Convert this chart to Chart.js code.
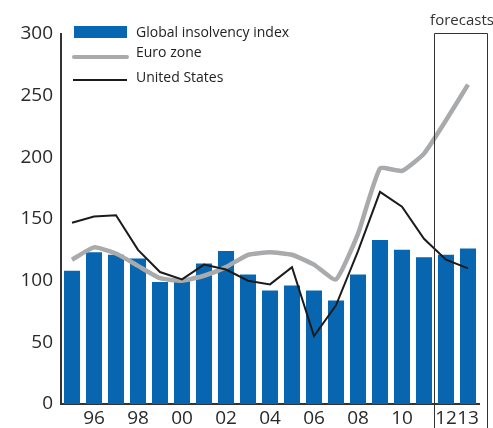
<!DOCTYPE html>
<html>
<head>
<meta charset="utf-8">
<script src="https://cdn.jsdelivr.net/npm/chart.js@4"></script>
<style>
html,body{margin:0;padding:0;background:#fff;}
#wrap{width:493px;height:428px;position:relative;}
</style>
</head>
<body>
<div id="wrap"><canvas id="c"></canvas></div>
<script>
const years = ['95','96','97','98','99','00','01','02','03','04','05','06','07','08','09','10','11','12','13'];
const shownLabels = ['96','98','00','02','04','06','08','10','12','13'];
const globalIndex = [108,123,121,118,99,100,114,124,105,92,96,92,84,105,133,125,119,121,126];
const euroZone = [117,127,122,112,102,100,104,111,121,123,121,113,101,138,191,189,203,230,259];
const unitedStates = [147,152,153,125,107,101,113,109,100,97,111,55,80,124,172,160,134,117,110];
const yTicks = [0,50,100,150,200,250,300];
const seriesNames = ['Global insolvency index','Euro zone','United States'];
const forecastLabel = 'forecasts';

const FONT = "'Open Sans', 'DejaVu Sans', sans-serif";
const BLUE = '#0866b0', GREY = '#a9aaac', BLACK = '#1b1b1b', AXIS = '#333333';

const overlay = {
  id: 'overlay',
  afterDraw(chart) {
    const ctx = chart.ctx;
    const x = chart.scales.x, y = chart.scales.y;
    // forecast box
    const left = Math.round((x.getPixelForValue(16) + x.getPixelForValue(17)) / 2) - 0.5;
    const right = chart.width - 5.5;
    const top = y.getPixelForValue(300) - 0.5;
    ctx.save();
    ctx.strokeStyle = AXIS; ctx.lineWidth = 1;
    ctx.beginPath();
    ctx.moveTo(left, chart.height); ctx.lineTo(left, top); ctx.lineTo(right, top); ctx.lineTo(right, chart.height);
    ctx.stroke();
    ctx.fillStyle = AXIS;
    ctx.font = "15px " + FONT;
    ctx.textAlign = 'center'; ctx.textBaseline = 'middle';
    ctx.fillText(forecastLabel, (left + right) / 2 + 1, top - 13);
    // legend
    ctx.textAlign = 'left';
    ctx.font = "14px " + FONT;
    ctx.fillStyle = BLUE;
    ctx.fillRect(74, 26, 53, 12);
    ctx.strokeStyle = GREY; ctx.lineWidth = 4; ctx.lineCap = 'round';
    ctx.beginPath(); ctx.moveTo(74, 57); ctx.lineTo(127, 57); ctx.stroke();
    ctx.strokeStyle = BLACK; ctx.lineWidth = 2; ctx.lineCap = 'butt';
    ctx.beginPath(); ctx.moveTo(73, 80); ctx.lineTo(127, 80); ctx.stroke();
    ctx.fillStyle = '#222';
    ctx.fillText(seriesNames[0], 136, 33);
    ctx.fillText(seriesNames[1], 136, 53);
    ctx.fillText(seriesNames[2], 136, 78);
    ctx.restore();
  }
};

new Chart(document.getElementById('c'), {
  type: 'bar',
  data: {
    labels: years,
    datasets: [
      { type: 'line', label: seriesNames[2], data: unitedStates, borderColor: BLACK, borderWidth: 2, pointRadius: 0, tension: 0, order: 0 },
      { type: 'line', label: seriesNames[1], data: euroZone, borderColor: GREY, borderWidth: 4.5, pointRadius: 0, tension: 0.15, order: 1 },
      { type: 'bar', label: seriesNames[0], data: globalIndex, backgroundColor: BLUE, barPercentage: 0.73, categoryPercentage: 1, order: 2 }
    ]
  },
  plugins: [overlay],
  options: {
    responsive: true, maintainAspectRatio: false, animation: false,
    layout: { padding: { top: 34, right: 14, bottom: 0, left: 0 } },
    plugins: { legend: { display: false }, tooltip: { enabled: false } },
    scales: {
      x: {
        grid: { display: false, drawTicks: false },
        border: { display: true, color: AXIS, width: 2 },
        ticks: {
          color: '#2a2a2a', font: { size: 19, family: FONT }, padding: 3, maxRotation: 0, autoSkip: false,
          callback: function(v) { const l = years[v]; return shownLabels.includes(l) ? l : ''; }
        },
        afterFit: s => { s.height = 24; }
      },
      y: {
        min: 0, max: 300,
        grid: { display: false, drawTicks: false },
        border: { display: true, color: AXIS, width: 2 },
        afterBuildTicks: s => { s.ticks = yTicks.map(v => ({ value: v })); },
        ticks: { color: '#2a2a2a', font: { size: 19, family: FONT }, padding: 8 },
        afterFit: s => { s.width = 61; }
      }
    }
  }
});
</script>
</body>
</html>
